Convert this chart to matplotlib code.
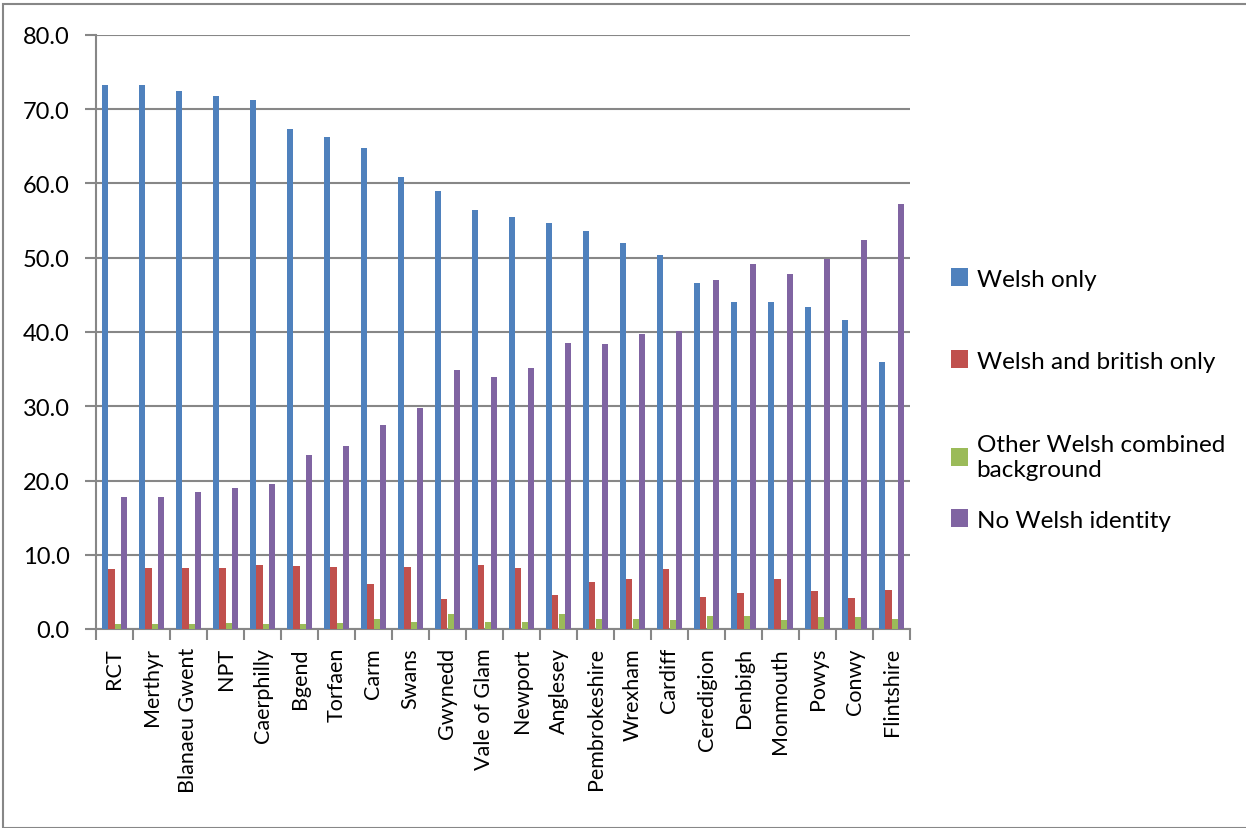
import matplotlib
matplotlib.use("Agg")
import matplotlib.pyplot as plt
import numpy as np
from matplotlib.patches import Rectangle
from matplotlib.ticker import FixedLocator, NullFormatter

plt.rcParams['font.family'] = ['Lato', 'DejaVu Sans']

areas = ["RCT", "Merthyr", "Blanaeu Gwent", "NPT", "Caerphilly", "Bgend", "Torfaen",
         "Carm", "Swans", "Gwynedd", "Vale of Glam", "Newport", "Anglesey",
         "Pembrokeshire", "Wrexham", "Cardiff", "Ceredigion", "Denbigh", "Monmouth",
         "Powys", "Conwy", "Flintshire"]

welsh_only = [73.3, 73.2, 72.4, 71.8, 71.2, 67.3, 66.2, 64.8, 60.9, 59.0, 56.4,
              55.5, 54.7, 53.6, 52.0, 50.4, 46.6, 44.1, 44.0, 43.3, 41.6, 35.9]
welsh_british = [8.1, 8.2, 8.2, 8.2, 8.6, 8.5, 8.3, 6.1, 8.4, 4.0, 8.6,
                 8.2, 4.6, 6.3, 6.7, 8.1, 4.3, 4.9, 6.8, 5.1, 4.2, 5.2]
other_combined = [0.7, 0.7, 0.7, 0.8, 0.7, 0.7, 0.8, 1.4, 1.0, 2.0, 0.9,
                  1.0, 2.0, 1.35, 1.4, 1.2, 1.8, 1.75, 1.2, 1.6, 1.6, 1.4]
no_welsh = [17.8, 17.8, 18.5, 19.0, 19.5, 23.4, 24.6, 27.5, 29.7, 34.9, 34.0,
            35.2, 38.5, 38.4, 39.7, 40.2, 47.0, 49.1, 47.8, 49.8, 52.4, 57.3]

series_names = ["Welsh only", "Welsh and british only",
                "Other Welsh combined\nbackground", "No Welsh identity"]
series_values = [welsh_only, welsh_british, other_combined, no_welsh]
colors = ["#4F81BD", "#C0504D", "#9BBB59", "#8064A2"]
y_ticks = [0, 10, 20, 30, 40, 50, 60, 70, 80]

W, H = 1246, 829
fig = plt.figure(figsize=(W / 100, H / 100), dpi=100)
ax = fig.add_axes([96 / W, 1 - 630 / H, (910 - 96) / W, (630 - 36) / H])

x = np.arange(len(areas))
bw = 0.17
handles = []
for i, (vals, c) in enumerate(zip(series_values, colors)):
    b = ax.bar(x + (i - 1.5) * bw, vals, width=bw, color=c, edgecolor='none', zorder=3)
    handles.append(b)

ax.set_xlim(-0.5, len(areas) - 0.5)
ax.set_ylim(0, 80)
ax.set_yticks(y_ticks)
ax.set_yticklabels([f"{v:.1f}" for v in y_ticks], fontsize=17)
ax.yaxis.grid(True, color='#878787', linewidth=1.5, zorder=0)
ax.set_axisbelow(True)

ax.set_xticks(x)
ax.set_xticklabels(areas, rotation=90, fontsize=15.5)
ax.tick_params(axis='x', which='major', length=0, pad=13)
ax.xaxis.set_minor_locator(FixedLocator(np.arange(-0.5, len(areas) + 0.5, 1)))
ax.xaxis.set_minor_formatter(NullFormatter())
ax.tick_params(axis='x', which='minor', length=8, width=1.5, color='#878787')
ax.tick_params(axis='y', length=8, width=1.5, color='#878787', pad=11)

for s in ['top', 'right']:
    ax.spines[s].set_visible(False)
for s in ['left', 'bottom']:
    ax.spines[s].set_color('#878787')
    ax.spines[s].set_linewidth(1.5)

# legend entries placed like the original
legend_y = [280, 362, 458, 521]
for h, name, ly in zip(handles, series_names, legend_y):
    fig.legend([h], [name], loc='center left', bbox_to_anchor=(939 / W, 1 - ly / H),
               frameon=False, fontsize=17.5, handlelength=0.7, handleheight=0.7,
               handletextpad=0.35, borderpad=0, labelspacing=0.2)

fig.patches.append(Rectangle((3 / W, 0), 1.2, 1 - 5 / H, transform=fig.transFigure,
                             fill=False, edgecolor='#878787', linewidth=1.5))

fig.savefig("out.png", dpi=100)
